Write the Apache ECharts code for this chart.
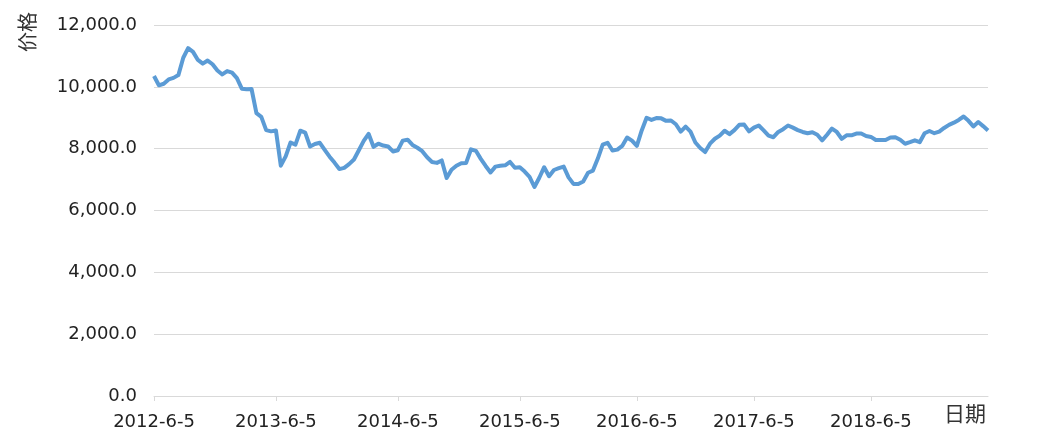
<!DOCTYPE html>
<html>
<head>
<meta charset="utf-8">
<script src="https://cdn.jsdelivr.net/npm/echarts@6/dist/echarts.min.js"></script>
<style>
html,body{margin:0;padding:0;background:#fff;}
#chart{width:1037px;height:443px;}
</style>
</head>
<body>
<div id="chart"></div>
<script>
const tickLabels = ['2012-6-5','2013-6-5','2014-6-5','2015-6-5','2016-6-5','2017-6-5','2018-6-5'];
const tickIndex = [0,25,50,75,99,123,147];
const prices = [
10350,10050,10100,10240,10290,10380,10940,11250,11130,10870,
10750,10850,10730,10530,10400,10510,10460,10280,9940,9920,
9930,9150,9030,8600,8560,8590,7450,7750,8200,8130,
8580,8520,8070,8150,8190,7960,7740,7550,7340,7380,
7500,7650,7950,8250,8480,8060,8160,8100,8070,7910,
7950,8260,8290,8120,8030,7920,7720,7570,7540,7620,
7050,7320,7450,7530,7540,7980,7930,7670,7440,7230,
7420,7450,7460,7570,7380,7400,7260,7090,6760,7060,
7400,7110,7310,7370,7420,7070,6860,6860,6940,7220,
7290,7680,8130,8190,7940,7970,8090,8360,8260,8090,
8590,9000,8930,8990,8980,8900,8910,8790,8550,8710,
8550,8200,8020,7890,8160,8320,8420,8580,8470,8600,
8770,8780,8560,8680,8750,8590,8420,8370,8540,8630,
8750,8680,8600,8540,8500,8530,8450,8270,8450,8650,
8540,8320,8430,8430,8490,8490,8410,8380,8280,8280,
8280,8360,8370,8290,8160,8210,8270,8210,8500,8570,
8500,8550,8670,8770,8840,8930,9040,8900,8720,8860,
8730,8590
];
const yTicks = {min: 0, max: 12000, interval: 2000};
const xName = '日期';
const yName = '价格';

const categories = prices.map((v, i) => {
  const k = tickIndex.indexOf(i);
  return k >= 0 ? tickLabels[k] : 'p' + i;
});
const isTick = (i) => tickIndex.indexOf(i) >= 0;

function fmt(v) {
  const s = Math.round(v).toString().replace(/\B(?=(\d{3})+(?!\d))/g, ',');
  return s + '.0';
}

const chart = echarts.init(document.getElementById('chart'), null, {renderer: 'canvas'});
chart.setOption({
  animation: false,
  backgroundColor: '#ffffff',
  grid: {left: 154, right: 49, top: 25, bottom: 47, containLabel: false},
  xAxis: {
    type: 'category',
    data: categories,
    boundaryGap: false,
    name: xName,
    nameLocation: 'end',
    nameGap: -2,
    nameTextStyle: {
      fontFamily: 'Noto Sans CJK SC', fontSize: 21, color: '#333',
      align: 'right', verticalAlign: 'top', padding: [7, 0, 0, 0]
    },
    axisLine: {show: true, lineStyle: {color: '#D9D9D9', width: 1}},
    axisTick: {show: true, length: 5, interval: (i) => isTick(i), lineStyle: {color: '#D9D9D9'}},
    axisLabel: {
      interval: (i) => isTick(i),
      formatter: (val) => val,
      margin: 17,
      fontFamily: 'DejaVu Sans', fontSize: 18, color: '#222'
    },
    splitLine: {show: false}
  },
  yAxis: {
    type: 'value',
    min: yTicks.min, max: yTicks.max, interval: yTicks.interval,
    axisLine: {show: false},
    axisTick: {show: false},
    axisLabel: {
      formatter: fmt, margin: 17,
      fontFamily: 'DejaVu Sans', fontSize: 18, color: '#222'
    },
    splitLine: {show: true, lineStyle: {color: '#D9D9D9', width: 1}}
  },
  graphic: [{
    type: 'text',
    x: 27, y: 32,
    rotation: Math.PI / 2,
    style: {
      text: yName, fontFamily: 'Noto Sans CJK SC', fontSize: 20, fill: '#333',
      align: 'center', verticalAlign: 'middle'
    }
  }],
  series: [{
    type: 'line',
    data: prices,
    showSymbol: false,
    symbol: 'none',
    lineStyle: {color: '#5B9BD5', width: 4, join: 'round'},
    itemStyle: {color: '#5B9BD5'}
  }]
});
</script>
</body>
</html>
